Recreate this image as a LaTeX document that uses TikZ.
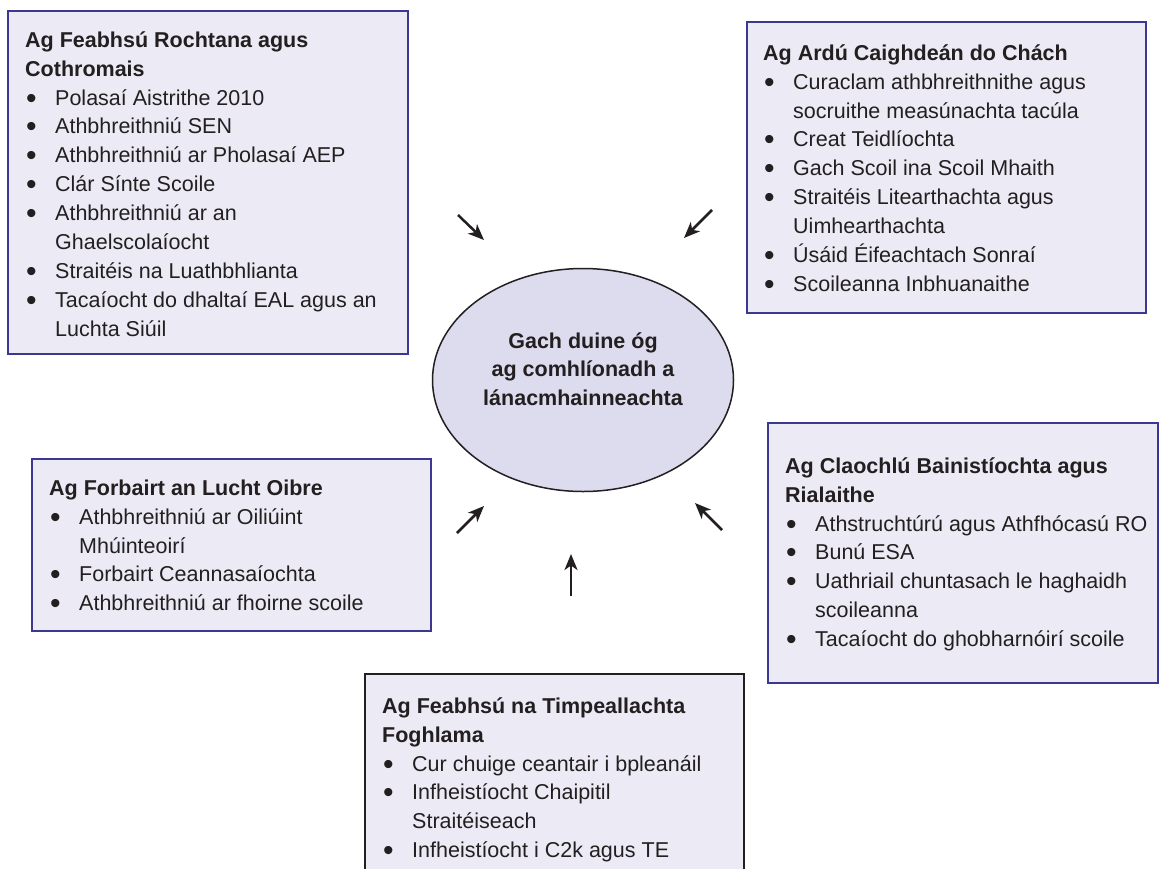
\documentclass[tikz,border=0pt]{standalone}
\usepackage{fontspec}
\usepackage{graphicx}
\setmainfont{Liberation Sans}
\usetikzlibrary{arrows.meta,shapes.geometric}
\definecolor{boxborder}{HTML}{3B3891}
\definecolor{boxfill}{HTML}{ECEBF5}
\definecolor{ellfill}{HTML}{DDDBEE}
\definecolor{txtcol}{HTML}{231F20}
\newcommand{\bul}{\makebox[30pt][l]{\hspace{1pt}\raisebox{-3pt}{\scalebox{1.4}{•}}}}
\newcommand{\cont}{\hspace*{30pt}}
\newcommand{\firstline}{\rule{0pt}{17pt}}
\begin{document}
\begin{tikzpicture}[x=1pt,y=-1pt,
  panel/.style={draw=boxborder, line width=2pt, fill=boxfill, anchor=north west, inner sep=0pt},
  darkpanel/.style={panel, draw=txtcol},
  paneltext/.style={anchor=north west, inner sep=0pt, align=left, font=\fontsize{21.5}{28.9}\selectfont, text=txtcol},
  core/.style={ellipse, draw=txtcol, line width=1.5pt, fill=ellfill, inner sep=0pt},
  coretext/.style={inner sep=0pt, align=center, font=\fontsize{21.5}{28.5}\selectfont\bfseries, text=txtcol},
  arr/.style={-{Stealth[length=16pt,width=13pt,inset=4.5pt]}, line width=2.5pt, draw=txtcol}]
\clip (0,0) rectangle (1159,868);
\fill[white] (0,0) rectangle (1159,868);

% panels
\node[panel, minimum width=400pt, minimum height=343pt] (p1) at (7,10) {};
\node[panel, minimum width=399pt, minimum height=291pt] (p2) at (746,21) {};
\node[panel, minimum width=390pt, minimum height=260pt] (p3) at (767,422) {};
\node[panel, minimum width=399pt, minimum height=172pt] (p4) at (31,458) {};
\node[darkpanel, minimum width=379pt, minimum height=220pt] (p5) at (364,673) {};

% texts
\node[paneltext] (t1) at (25,30) {\firstline\textbf{Ag Feabhsú Rochtana agus}\\
\textbf{Cothromais}\\
\bul Polasaí Aistrithe 2010\\
\bul Athbhreithniú SEN\\
\bul Athbhreithniú ar Pholasaí AEP\\
\bul Clár Sínte Scoile\\
\bul Athbhreithniú ar an\\
\cont Ghaelscolaíocht\\
\bul Straitéis na Luathbhlianta\\
\bul Tacaíocht do dhaltaí EAL agus an\\
\cont Luchta Siúil};

\node[paneltext] (t2) at (763,43) {\firstline\textbf{Ag Ardú Caighdeán do Chách}\\
\bul Curaclam athbhreithnithe agus\\
\cont socruithe measúnachta tacúla\\
\bul Creat Teidlíochta\\
\bul Gach Scoil ina Scoil Mhaith\\
\bul Straitéis Litearthachta agus\\
\cont Uimhearthachta\\
\bul Úsáid Éifeachtach Sonraí\\
\bul Scoileanna Inbhuanaithe};

\node[paneltext] (t3) at (785,456) {\firstline\textbf{Ag Claochlú Bainistíochta agus}\\
\textbf{Rialaithe}\\
\bul Athstruchtúrú agus Athfhócasú RO\\
\bul Bunú ESA\\
\bul Uathriail chuntasach le haghaidh\\
\cont scoileanna\\
\bul Tacaíocht do ghobharnóirí scoile};

\node[paneltext] (t4) at (49,478) {\firstline\textbf{Ag Forbairt an Lucht Oibre}\\
\bul Athbhreithniú ar Oiliúint\\
\cont Mhúinteoirí\\
\bul Forbairt Ceannasaíochta\\
\bul Athbhreithniú ar fhoirne scoile};

\node[paneltext] (t5) at (382,696) {\firstline\textbf{Ag Feabhsú na Timpeallachta}\\
\textbf{Foghlama}\\
\bul Cur chuige ceantair i bpleanáil\\
\bul Infheistíocht Chaipitil\\
\cont Straitéiseach\\
\bul Infheistíocht i C2k agus TE};

% centre
\node[core, minimum width=301pt, minimum height=223pt] (c) at (583,380) {};
\node[coretext] (ct) at (583,369) {Gach duine óg\\ag comhlíonadh a\\lánacmhainneachta};

% arrows
\coordinate (a1s) at (458,215); \coordinate (a1e) at (484,240);
\coordinate (a2s) at (712,210); \coordinate (a2e) at (684,238);
\coordinate (a3s) at (457,533); \coordinate (a3e) at (484,506);
\coordinate (a4s) at (722,530); \coordinate (a4e) at (695,503);
\coordinate (a5s) at (571,596); \coordinate (a5e) at (571,554);
\draw[arr] (a1s) -- (a1e);
\draw[arr] (a2s) -- (a2e);
\draw[arr] (a3s) -- (a3e);
\draw[arr] (a4s) -- (a4e);
\draw[arr] (a5s) -- (a5e);
\end{tikzpicture}
\end{document}
